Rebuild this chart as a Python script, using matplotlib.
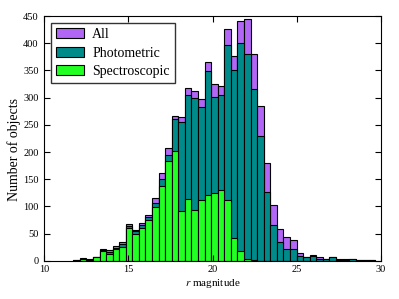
import numpy as np
import matplotlib
matplotlib.use("Agg")
import matplotlib.pyplot as plt

plt.rcParams["font.family"] = ["Liberation Serif", "DejaVu Serif"]
plt.rcParams["mathtext.fontset"] = "stix"

# histogram bins (r magnitude)
bin_start = 11.72
bin_width = 0.39

# counts per bin
all_counts = [1, 5, 3, 7, 21, 19, 27, 34, 68, 57, 70, 84, 115, 161, 207, 266,
              265, 317, 312, 297, 366, 325, 321, 426, 377, 441, 444, 381, 284,
              179, 103, 59, 43, 38, 14, 7, 11, 6, 4, 7, 3, 3, 4, 2, 1, 2]
phot_counts = [1, 4, 2, 6, 20, 16, 24, 30, 64, 54, 66, 80, 107, 150, 195, 260,
               256, 304, 300, 282, 349, 302, 304, 397, 350, 401, 381, 316, 230,
               126, 66, 34, 21, 22, 9, 7, 8, 4, 3, 6, 2, 2, 3, 1, 1, 1]
spec_counts = [0, 3, 1, 6, 18, 13, 21, 26, 60, 49, 61, 75, 99, 137, 184, 201,
               91, 113, 93, 111, 121, 124, 131, 112, 41, 17, 4, 1, 0,
               0, 0, 0, 0, 0, 0, 0, 0, 0, 0, 0, 0, 0, 0, 0, 0, 0]

lefts = bin_start + bin_width * np.arange(len(all_counts))

fig = plt.figure(figsize=(3.99, 2.99), dpi=100)
ax = fig.add_axes([0.111, 0.128, 0.844, 0.818])

ax.bar(lefts, all_counts, width=bin_width, align="edge", color="#b266f5",
       edgecolor="black", linewidth=0.8, label="All")
ax.bar(lefts, phot_counts, width=bin_width, align="edge", color="#008b8b",
       edgecolor="black", linewidth=0.8, label="Photometric")
ax.bar(lefts, spec_counts, width=bin_width, align="edge", color="#22ff22",
       edgecolor="black", linewidth=0.8, label="Spectroscopic")

ax.set_xlim(10, 30)
ax.set_ylim(0, 450)
ax.set_xticks([10, 15, 20, 25, 30])
ax.set_yticks(np.arange(0, 451, 50))
ax.tick_params(direction="in", top=True, right=True, length=4, labelsize=7.5)
ax.tick_params(axis="x", pad=3)
ax.tick_params(axis="y", pad=4)
ax.set_xlabel("$r$ magnitude", fontsize=8, labelpad=2)
ax.set_ylabel("Number of objects", fontsize=10)
ax.yaxis.set_label_coords(-0.068, 0.455)

leg = ax.legend(loc="upper left", fontsize=10, fancybox=False,
                handlelength=2.0, handletextpad=0.6, borderpad=0.35,
                labelspacing=0.4)
leg.get_frame().set_edgecolor("black")

fig.savefig("out.png", dpi=100)
